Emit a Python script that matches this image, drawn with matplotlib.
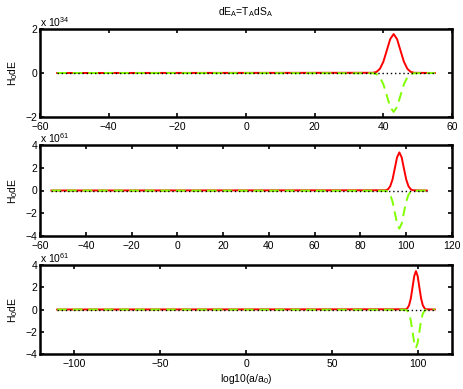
import matplotlib.pyplot as plt

plt.rcParams['font.family'] = ['Liberation Sans', 'DejaVu Sans']
plt.rcParams['font.size'] = 7.5
plt.rcParams['mathtext.default'] = 'regular'

# panel 1 (units of 1e34)
x1 = [-55, 37, 38, 39, 40, 41, 42, 43, 44, 45, 46, 47, 48, 49, 55]
red1 = [0, 0.01, 0.05, 0.19, 0.51, 1.02, 1.54, 1.77, 1.54, 1.02, 0.51, 0.19, 0.05, 0.01, 0]
green1 = [0, -0.01, -0.05, -0.19, -0.51, -1.02, -1.54, -1.77, -1.54, -1.02, -0.51, -0.19, -0.05, -0.01, 0]
sum1 = [0] * 15

# panel 2 (units of 1e61)
x2 = [-55, 91, 92, 93, 94, 95, 96, 97, 98, 99, 100, 101, 102, 103, 109]
red2 = [0, 0.02, 0.10, 0.37, 0.96, 1.93, 2.92, 3.35, 2.92, 1.93, 0.96, 0.37, 0.10, 0.02, 0]
green2 = [0, -0.02, -0.10, -0.37, -0.96, -1.93, -2.92, -3.35, -2.92, -1.93, -0.96, -0.37, -0.10, -0.02, 0]
sum2 = [0] * 15

# panel 3 (units of 1e61)
x3 = [-110, 93, 94, 95, 96, 97, 98, 99, 100, 101, 102, 103, 104, 105, 110]
red3 = [0, 0.02, 0.11, 0.38, 0.99, 1.98, 3.00, 3.45, 3.00, 1.98, 0.99, 0.38, 0.11, 0.02, 0]
green3 = [0, -0.02, -0.11, -0.38, -0.99, -1.98, -3.00, -3.45, -3.00, -1.98, -0.99, -0.38, -0.11, -0.02, 0]
sum3 = [0] * 15

panels = [
    (x1, red1, green1, sum1, 34, (-60, 60), range(-60, 61, 20), (-2, 2), [-2, 0, 2]),
    (x2, red2, green2, sum2, 61, (-60, 120), range(-60, 121, 20), (-4, 4), [-4, -2, 0, 2, 4]),
    (x3, red3, green3, sum3, 61, (-120, 120), range(-100, 101, 50), (-4, 4), [-4, -2, 0, 2, 4]),
]

W, H = 463, 389
fig = plt.figure(figsize=(W / 100, H / 100), dpi=100)
boxes = [(29, 117), (145, 236), (265, 354)]

axes = []
for (top, bot), p in zip(boxes, panels):
    x, red, green, tot, expo, xl, xt, yl, yt = p
    ax = fig.add_axes([40 / W, 1 - bot / H, 412 / W, (bot - top) / H])
    ax.plot(x, red, color='red', lw=1.4)
    ax.plot(x, green, color=(0.5, 1, 0), lw=1.4, ls=(0, (5, 3)))
    ax.plot(x, tot, color='black', lw=1.0, ls=(0, (1, 2)))
    ax.set_xlim(*xl)
    ax.set_ylim(*yl)
    ax.set_xticks(list(xt))
    ax.set_yticks(yt)
    ax.tick_params(direction='in', top=True, right=True, length=3, width=1.2)
    ax.tick_params(axis='x', pad=3.5)
    ax.tick_params(axis='y', pad=2)
    for s in ax.spines.values():
        s.set_linewidth(1.8)
    ax.set_ylabel('H$_0$dE', labelpad=4)
    ax.text(0.0, 1.005, 'x 10$^{%d}$' % expo, transform=ax.transAxes,
            ha='left', va='bottom', fontsize=7.5)
    axes.append(ax)

axes[0].set_title('dE$_A$=T$_A$dS$_A$', fontsize=7.5, pad=10)
axes[2].set_xlabel('log10(a/a$_0$)', labelpad=2)

fig.savefig('out.png', dpi=100)
